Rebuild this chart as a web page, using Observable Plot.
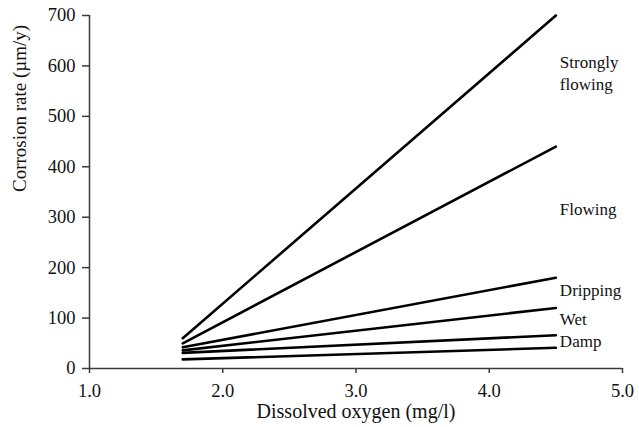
<!DOCTYPE html>
<html>
<head>
<meta charset="utf-8">
<script src="https://cdn.jsdelivr.net/npm/d3@7"></script>
<script src="https://cdn.jsdelivr.net/npm/@observablehq/plot@0.6"></script>
<style>
  html, body { margin: 0; padding: 0; background: #fff; }
  svg, svg text { font-family: "Liberation Serif", "DejaVu Serif", serif !important; }
  g[aria-label$="tick label"] { font-size: 18.5px !important; }
</style>
</head>
<body>
<div id="chart"></div>
<script>
// Data
const oxygenStart = 1.7;
const oxygenEnd = 4.5;
const lineIds = ["A", "B", "C", "D", "E", "F"];
const rateAtStart = [60, 50, 42, 36, 31, 18];
const rateAtEnd = [700, 440, 180, 120, 66, 41];

const labelNames = ["Strongly\nflowing", "Flowing", "Dripping", "Wet", "Damp"];
const labelRates = [588, 319, 159, 100, 57];
const labelOxygen = 4.53;

const xTicks = [1, 2, 3, 4, 5];
const yTicks = [0, 100, 200, 300, 400, 500, 600, 700];
const xTitle = "Dissolved oxygen (mg/l)";
const yTitle = "Corrosion rate (µm/y)";

const lineData = [];
lineIds.forEach((id, i) => {
  lineData.push({id, x: oxygenStart, y: rateAtStart[i]});
  lineData.push({id, x: oxygenEnd, y: rateAtEnd[i]});
});
const labelData = labelNames.map((name, i) => ({name, x: labelOxygen, y: labelRates[i]}));

const axisColor = "#3a3a3a";
const chart = Plot.plot({
  width: 639,
  height: 427,
  marginLeft: 89,
  marginRight: 17,
  marginTop: 15,
  marginBottom: 59,
  style: {background: "#fff"},
  x: {domain: [1, 5]},
  y: {domain: [0, 700]},
  marks: [
    Plot.ruleY([0], {stroke: axisColor, strokeWidth: 1.5}),
    Plot.ruleX([1], {stroke: axisColor, strokeWidth: 1.5}),
    Plot.axisX({ticks: xTicks, tickFormat: d3.format(".1f"), tickSize: 5, tickPadding: 10,
      fontSize: 18.5, label: null, stroke: axisColor, strokeWidth: 1.5, color: "#111"}),
    Plot.axisY({ticks: yTicks, tickSize: 7, tickPadding: 7,
      fontSize: 18.5, label: null, stroke: axisColor, strokeWidth: 1.5, color: "#111"}),
    Plot.line(lineData, {x: "x", y: "y", z: "id", stroke: "#000", strokeWidth: 2.6}),
    Plot.text(labelData, {x: "x", y: "y", text: "name", textAnchor: "start",
      fontSize: 17, lineHeight: 1.32, fill: "#111"}),
    Plot.text([xTitle], {frameAnchor: "bottom", dy: 49, fontSize: 20, fill: "#111"}),
    Plot.text([yTitle], {frameAnchor: "left", dx: -70, rotate: -90, fontSize: 19, fill: "#111"})
  ]
});
document.getElementById("chart").appendChild(chart);
</script>
</body>
</html>
